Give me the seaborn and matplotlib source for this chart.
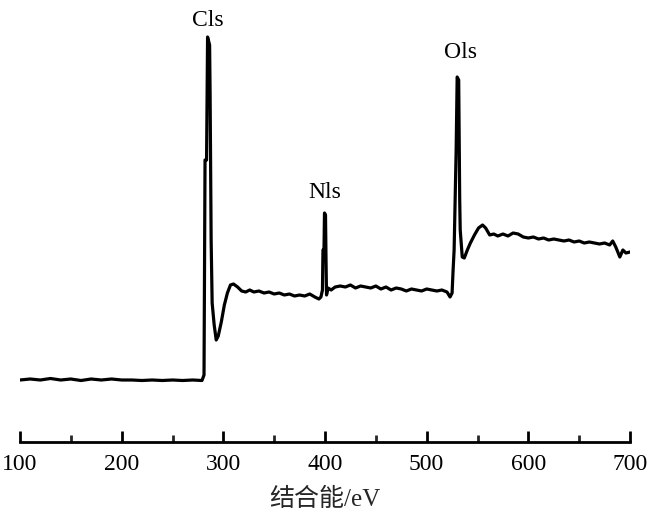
import matplotlib
matplotlib.use("Agg")
import matplotlib.pyplot as plt
import seaborn as sns
import pandas as pd
from matplotlib.ticker import MultipleLocator

# Binding energy (eV) and intensity (a.u.)
energy = [100, 110, 120, 130, 140, 150, 160, 170, 180, 190, 200, 210, 220, 230, 240,
          250, 260, 270, 279, 281, 282, 283.5, 284.5, 286.5, 287, 288, 289, 291, 293,
          295, 298, 301, 304, 307, 310, 314, 318, 322, 326, 330, 335, 340, 345, 350,
          355, 360, 365, 370, 375, 380, 385, 390, 394, 396, 397.5, 398, 399, 399.5,
          400.5, 401, 401.5, 403, 406, 410, 415, 420, 425, 430, 435, 440, 445, 450,
          455, 460, 465, 470, 475, 480, 485, 490, 495, 500, 505, 510, 515, 520, 523,
          525, 526, 527, 529, 530, 531.5, 532.5, 533, 535, 537, 540, 543, 547, 551,
          555, 558, 562, 566, 570, 575, 580, 585, 590, 595, 600, 605, 610, 615, 620,
          625, 630, 635, 640, 645, 650, 655, 660, 665, 670, 675, 680, 683, 686, 690,
          693, 696, 700]
intensity = [2000, 2100, 2000, 2150, 2000, 2100, 1950, 2100, 2000, 2100, 2000, 2000, 1950,
             2000, 1950, 2000, 1950, 2000, 1950, 2500, 24000, 24000, 36300, 35500, 30500,
             16000, 9700, 7500, 6000, 6400, 7800, 9500, 10700, 11500, 11600, 11300, 10900,
             10800, 11000, 10800, 10900, 10700, 10800, 10600, 10700, 10500, 10600, 10400,
             10500, 10400, 10600, 10300, 10100, 10300, 11000, 15000, 15000, 18700, 18500,
             14000, 10500, 11200, 11000, 11300, 11400, 11300, 11500, 11200, 11400, 11300,
             11200, 11400, 11100, 11300, 11000, 11200, 11100, 10900, 11100, 11000, 10900,
             11100, 11000, 10900, 11000, 10800, 10300, 10700, 13000, 15000, 25000, 32300,
             32000, 20000, 17000, 14300, 14200, 15000, 15700, 16500, 17200, 17500, 17200,
             16500, 16600, 16400, 16600, 16400, 16700, 16600, 16300, 16200, 16300, 16100,
             16200, 16000, 16100, 16000, 15900, 16000, 15800, 15900, 15700, 15800, 15700,
             15600, 15700, 15500, 15900, 15300, 14300, 15000, 14700, 14800]

peak_names = ["Cls", "Nls", "Ols"]
peak_energy = [285, 400, 533]
peak_label_y = [38000, 20700, 34700]

df = pd.DataFrame({"energy": energy, "intensity": intensity})

sns.set_style("white")
plt.rcParams["font.family"] = ["Liberation Serif", "Noto Sans CJK SC"]

fig = plt.figure(figsize=(6.5, 5.2), dpi=100)
ax = fig.add_axes([20 / 650, 78 / 520, 610 / 650, 432 / 520])
sns.lineplot(data=df, x="energy", y="intensity", ax=ax, color="black",
             linewidth=2.3, estimator=None, sort=False)

for name, xe, ye in zip(peak_names, peak_energy, peak_label_y):
    ax.text(xe, ye, name, ha="center", va="center", fontsize=17, color="black")

ax.set_xlim(100, 700)
ax.set_ylim(-4200, 39000)
ax.set_yticks([])
ax.set_ylabel("")
ax.set_xlabel("结合能/eV", fontsize=18, labelpad=9,
              family=["Liberation Serif", "Noto Sans CJK SC"])
for s in ["top", "right", "left"]:
    ax.spines[s].set_visible(False)
ax.spines["bottom"].set_linewidth(2.0)
ax.spines["bottom"].set_color("black")
ax.xaxis.set_major_locator(MultipleLocator(100))
ax.xaxis.set_minor_locator(MultipleLocator(50))
ax.tick_params(axis="x", which="major", direction="in", length=8, width=2,
               labelsize=17, pad=9, colors="black", bottom=True)
ax.tick_params(axis="x", which="minor", direction="in", length=5, width=2,
               bottom=True)
ax.patch.set_alpha(0)
fig.savefig("out.png", dpi=100)
